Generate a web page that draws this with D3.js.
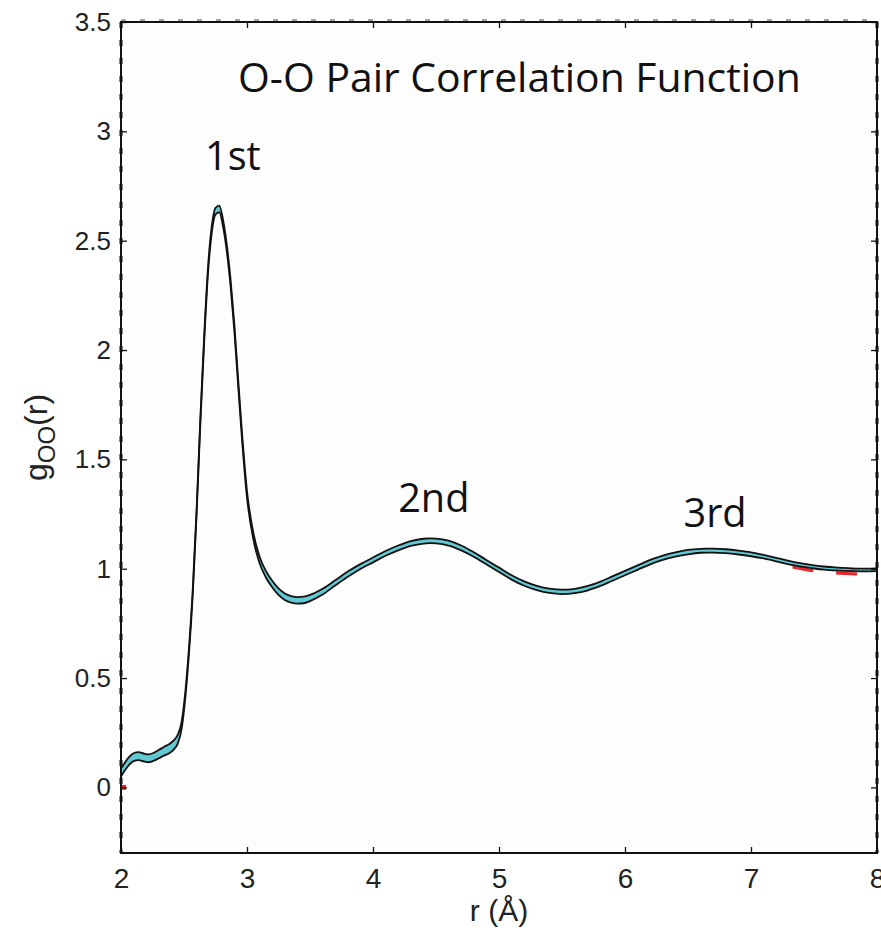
<!DOCTYPE html>
<html><head><meta charset="utf-8">
<script src="https://cdn.jsdelivr.net/npm/d3@7"></script>
<style>body{margin:0;background:#fff} svg{display:block}</style>
</head><body><svg id="c" width="881" height="934"></svg>
<script>
// ---- data ----
const rValues = [2.00,2.03,2.06,2.10,2.14,2.18,2.22,2.26,2.30,2.34,2.38,2.42,2.45,2.48,2.51,2.54,2.57,2.60,2.63,2.66,2.69,2.72,2.75,2.78,2.81,2.84,2.87,2.90,2.93,2.96,3.00,3.05,3.10,3.15,3.20,3.25,3.30,3.35,3.40,3.45,3.50,3.60,3.70,3.80,3.90,4.00,4.10,4.20,4.30,4.40,4.45,4.50,4.60,4.70,4.80,4.90,5.00,5.10,5.20,5.30,5.40,5.50,5.60,5.70,5.80,5.90,6.00,6.10,6.20,6.30,6.40,6.50,6.60,6.65,6.70,6.80,6.90,7.00,7.10,7.20,7.30,7.40,7.50,7.60,7.70,7.80,7.90,8.00];
const gMean = [0.068,0.095,0.118,0.138,0.143,0.137,0.133,0.140,0.152,0.165,0.176,0.195,0.220,0.280,0.420,0.630,0.900,1.260,1.680,2.050,2.360,2.550,2.635,2.645,2.580,2.465,2.305,2.100,1.850,1.610,1.340,1.150,1.040,0.975,0.930,0.895,0.872,0.860,0.855,0.857,0.866,0.895,0.935,0.975,1.010,1.040,1.070,1.095,1.115,1.126,1.128,1.127,1.117,1.095,1.065,1.030,0.995,0.960,0.932,0.912,0.899,0.894,0.898,0.910,0.930,0.955,0.980,1.005,1.030,1.050,1.065,1.076,1.082,1.083,1.083,1.080,1.074,1.066,1.055,1.042,1.028,1.017,1.008,1.002,0.998,0.995,0.994,0.995];
const gSpread = [0.018,0.018,0.018,0.018,0.018,0.018,0.018,0.018,0.019,0.020,0.021,0.021,0.020,0.016,0.013,0.012,0.012,0.012,0.012,0.013,0.014,0.015,0.015,0.015,0.015,0.015,0.015,0.015,0.015,0.015,0.015,0.015,0.015,0.015,0.015,0.015,0.015,0.015,0.015,0.015,0.014,0.013,0.012,0.012,0.011,0.011,0.011,0.011,0.011,0.011,0.011,0.011,0.011,0.011,0.010,0.010,0.010,0.010,0.010,0.010,0.010,0.010,0.010,0.010,0.010,0.010,0.010,0.010,0.010,0.010,0.010,0.010,0.009,0.009,0.009,0.009,0.009,0.009,0.008,0.008,0.008,0.007,0.007,0.007,0.007,0.006,0.006,0.006];
const expHeadR = [2.00, 2.04];
const expHeadG = [0.000, 0.000];
const expTailR = [7.33, 7.40, 7.50, 7.60, 7.70, 7.80, 7.90, 8.00];
const expTailG = [1.008, 1.000, 0.990, 0.984, 0.980, 0.977, 0.975, 0.976];
const xTicks = [2,3,4,5,6,7,8];
const xTickLabels = ["2","3","4","5","6","7","8"];
const yTicks = [0,0.5,1,1.5,2,2.5,3,3.5];
const yTickLabels = ["0","0.5","1","1.5","2","2.5","3","3.5"];
const peakNames = ["1st","2nd","3rd"];
const peakTextR = [2.667, 4.20, 6.464];
const peakTextG = [2.824, 1.259, 1.190];
const titleText = "O-O Pair Correlation Function";

// ---- chart ----
const svg = d3.select("#c");
const x = d3.scaleLinear().domain([2,8]).range([121,877]);
const y = d3.scaleLinear().domain([-0.3,3.5]).range([853,22]);
const L = x.range()[0], R = x.range()[1], T = y.range()[1], B = y.range()[0];

svg.append("rect").attr("x",L).attr("y",T).attr("width",R-L).attr("height",B-T).attr("fill","#fdfdfd");

const band = rValues.map((r,i)=>({r, lo:gMean[i]-gSpread[i], hi:gMean[i]+gSpread[i]}));
const curve = d3.curveMonotoneX;

// experimental (red dashed), drawn first
const expLine = d3.line().x(d=>x(d[0])).y(d=>y(d[1])).curve(curve);
svg.append("path").datum(expTailR.map((r,i)=>[r,expTailG[i]]))
  .attr("d",expLine).attr("fill","none").attr("stroke","#e8262b").attr("stroke-width",3.2)
  .attr("stroke-dasharray","21,23");
svg.append("path").datum(expHeadR.map((r,i)=>[r,expHeadG[i]]))
  .attr("d",expLine).attr("fill","none").attr("stroke","#e8262b").attr("stroke-width",5);

svg.append("path").datum(band)
  .attr("d", d3.area().x(d=>x(d.r)).y0(d=>y(d.lo)).y1(d=>y(d.hi)).curve(curve))
  .attr("fill","#62c9d3").attr("stroke","none");
["lo","hi"].forEach(k=>{
  svg.append("path").datum(band)
    .attr("d", d3.line().x(d=>x(d.r)).y(d=>y(d[k])).curve(curve))
    .attr("fill","none").attr("stroke","#111").attr("stroke-width",1.8);
});

// axes
const fontAx = "'Liberation Sans', Arial, Helvetica, sans-serif";
function styleAxis(g){
  g.select(".domain").remove();
  g.selectAll(".tick line").attr("stroke","#111").attr("stroke-width",1.3);
  g.selectAll(".tick text").attr("fill","#222").style("font-family",fontAx);
}
svg.append("g").attr("transform",`translate(0,${B})`)
  .call(d3.axisBottom(x).tickValues(xTicks).tickFormat((d,i)=>xTickLabels[i]).tickSize(-6).tickPadding(15))
  .call(styleAxis).call(g=>g.selectAll(".tick text").style("font-size","28px"));
svg.append("g").attr("transform",`translate(0,${T})`)
  .call(d3.axisTop(x).tickValues(xTicks).tickFormat("").tickSize(-6)).call(styleAxis);
svg.append("g").attr("transform",`translate(${L},0)`)
  .call(d3.axisLeft(y).tickValues(yTicks).tickFormat((d,i)=>yTickLabels[i]).tickSize(-6).tickPadding(10))
  .call(styleAxis).call(g=>g.selectAll(".tick text").style("font-size","26px"));
svg.append("g").attr("transform",`translate(${R},0)`)
  .call(d3.axisRight(y).tickValues(yTicks).tickFormat("").tickSize(-6)).call(styleAxis);

// frame
svg.append("rect").attr("x",L).attr("y",T).attr("width",R-L).attr("height",B-T)
  .attr("fill","none").attr("stroke","#111").attr("stroke-width",2);
// dotted artefacts along top / left / right edges
svg.append("line").attr("x1",L).attr("x2",R).attr("y1",T-2).attr("y2",T-2)
  .attr("stroke","#888").attr("stroke-width",1.3).attr("stroke-dasharray","5,14");
[L,R].forEach(xx=>svg.append("line").attr("x1",xx).attr("x2",xx).attr("y1",T).attr("y2",B)
  .attr("stroke","#111").attr("stroke-width",3).attr("stroke-dasharray","6,12"));

// axis titles
svg.append("text").attr("x",(L+R)/2).attr("y",921).attr("text-anchor","middle")
  .style("font-family",fontAx).style("font-size","30px").attr("fill","#222").text("r (Å)");
const yt = svg.append("text").attr("transform",`translate(47,${(T+B)/2}) rotate(-90)`)
  .attr("text-anchor","middle").style("font-family",fontAx).style("font-size","32px").attr("fill","#222");
yt.append("tspan").text("g");
yt.append("tspan").attr("dy",8).style("font-size","24px").text("OO");
yt.append("tspan").attr("dy",-8).text("(r)");

// title and peak labels
const fontT = "'Open Sans', 'Noto Sans', sans-serif";
const tt = svg.append("text").attr("x",238).attr("y",92).style("font-family",fontT)
  .style("font-size","40px").attr("fill","#111").text(titleText);
const w = tt.node().getComputedTextLength();
const fs = 40*563/w;
tt.style("font-size",fs+"px");
peakNames.forEach((n,i)=>{
  svg.append("text").attr("x",x(peakTextR[i])).attr("y",y(peakTextG[i]))
    .style("font-family",fontT).style("font-size",(fs*0.97)+"px").attr("fill","#111").text(n);
});
</script></body></html>
